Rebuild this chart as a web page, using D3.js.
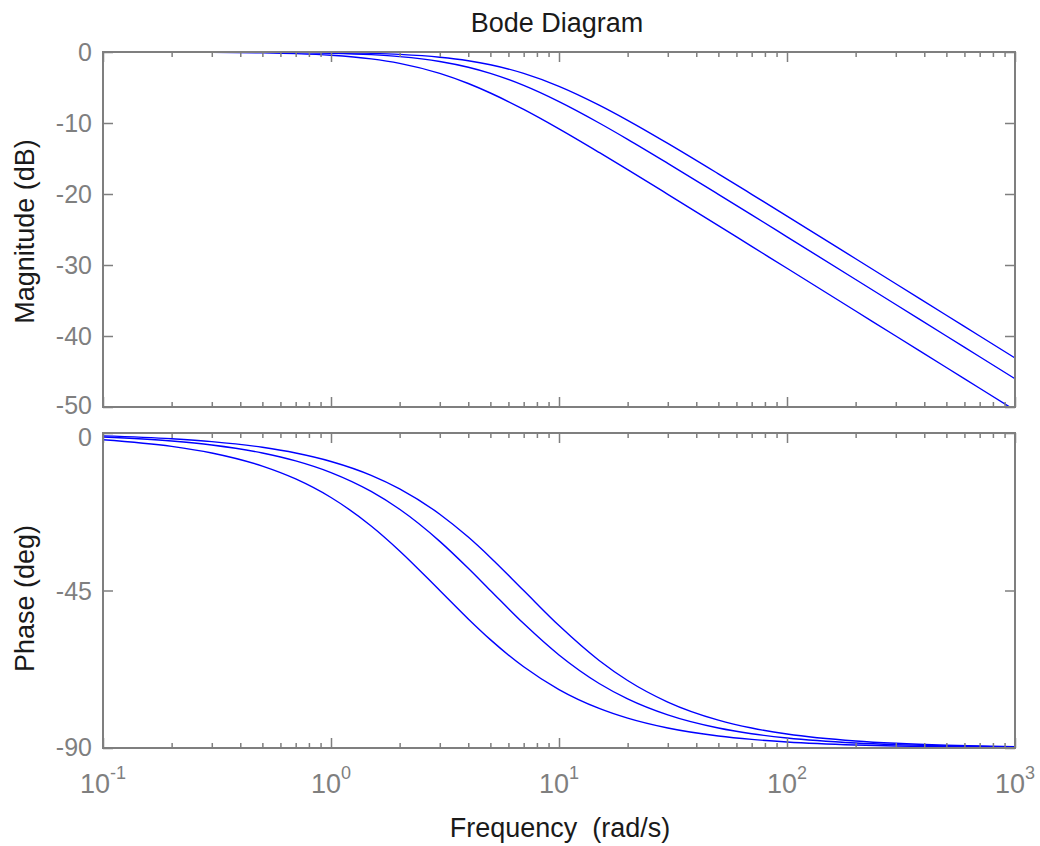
<!DOCTYPE html>
<html>
<head>
<meta charset="utf-8">
<script src="https://cdn.jsdelivr.net/npm/d3@7"></script>
<style>
  html, body { margin: 0; padding: 0; background: #ffffff; }
  svg { display: block; }
  text { font-family: "Liberation Sans", Arial, sans-serif; white-space: pre; }
</style>
</head>
<body>
<svg id="chart" width="1040" height="846"></svg>
<script>
// ---- data ----
const frequencies = [0.1, 0.2, 0.3, 0.5, 0.7, 1, 1.5, 2, 3, 4, 5, 7, 10, 15, 20, 30, 50, 70, 100, 200, 300, 500, 700, 1000];

// magnitude (dB), three responses
const magLow  = [-0.005, -0.019, -0.043, -0.119, -0.23, -0.458, -0.969, -1.597, -3.01, -4.437, -5.775, -8.09, -10.83, -14.15, -16.57, -20.04, -24.45, -27.37, -30.46, -36.48, -40.0, -44.44, -47.36, -50.46];
const magMid  = [-0.002, -0.007, -0.016, -0.043, -0.084, -0.17, -0.374, -0.645, -1.335, -2.148, -3.01, -4.71, -6.99, -10.0, -12.3, -15.68, -20.04, -22.94, -26.03, -32.04, -35.56, -40.0, -42.92, -46.02];
const magHigh = [-0.001, -0.004, -0.008, -0.022, -0.043, -0.088, -0.195, -0.341, -0.733, -1.227, -1.79, -3.01, -4.83, -7.48, -9.62, -12.87, -17.16, -20.04, -23.11, -29.12, -32.64, -37.08, -40.0, -43.1];

// phase (deg), three responses
const phaseLow  = [-1.91, -3.81, -5.71, -9.46, -13.13, -18.43, -26.57, -33.69, -45.0, -53.13, -59.04, -66.8, -73.3, -78.69, -81.47, -84.29, -86.57, -87.55, -88.28, -89.14, -89.43, -89.66, -89.75, -89.83];
const phaseMid  = [-1.15, -2.29, -3.43, -5.71, -7.97, -11.31, -16.7, -21.8, -30.96, -38.66, -45.0, -54.46, -63.43, -71.57, -75.96, -80.54, -84.29, -85.91, -87.14, -88.57, -89.05, -89.43, -89.59, -89.71];
const phaseHigh = [-0.82, -1.64, -2.45, -4.09, -5.71, -8.13, -12.09, -15.95, -23.2, -29.74, -35.54, -45.0, -55.01, -64.98, -70.71, -76.87, -82.03, -84.29, -86.0, -87.99, -88.66, -89.2, -89.43, -89.6];

// axis ticks / labels
const xDecades = [0.1, 1, 10, 100, 1000];
const xDecadeExponents = ["-1", "0", "1", "2", "3"];
const magTicks = [0, -10, -20, -30, -40, -50];
const phaseTicks = [0, -45, -90];

const titleText = "Bode Diagram";
const xLabelText = "Frequency  (rad/s)";
const magLabelText = "Magnitude (dB)";
const phaseLabelText = "Phase (deg)";

// ---- layout ----
const svg = d3.select("#chart");
const left = 103, right = 1015;
const magTop = 52, magBottom = 407;
const phTop = 433, phBottom = 748;
const axisColor = "#7f7f7f";
const lineColor = "#0000ff";

const x = d3.scaleLog().domain([0.1, 1000]).range([left, right]);
const yMag = d3.scaleLinear().domain([-50, 0]).range([magBottom, magTop]);
const yPh = d3.scaleLinear().domain([-90, 0]).range([phBottom, phTop]);

// minor ticks
const minorTicks = [];
for (let e = -1; e < 3; e++) {
  for (let m = 2; m <= 9; m++) minorTicks.push(m * Math.pow(10, e));
}

// clip paths
const defs = svg.append("defs");
defs.append("clipPath").attr("id", "clipMag").append("rect")
  .attr("x", left).attr("y", magTop).attr("width", right - left).attr("height", magBottom - magTop);
defs.append("clipPath").attr("id", "clipPh").append("rect")
  .attr("x", left).attr("y", phTop).attr("width", right - left).attr("height", phBottom - phTop);

function drawCurves(series, yScale, clipId) {
  const g = svg.append("g").attr("clip-path", `url(#${clipId})`);
  const line = d3.line()
    .x(d => x(d[0]))
    .y(d => yScale(d[1]))
    .curve(d3.curveMonotoneX);
  series.forEach(vals => {
    const pts = frequencies.map((f, i) => [f, vals[i]]);
    g.append("path")
      .attr("d", line(pts))
      .attr("fill", "none")
      .attr("stroke", lineColor)
      .attr("stroke-width", 1.4);
  });
}

drawCurves([magLow, magMid, magHigh], yMag, "clipMag");
drawCurves([phaseLow, phaseMid, phaseHigh], yPh, "clipPh");

function drawFrame(yScale, top, bottom, yTicks, labelShift) {
  const g = svg.append("g");
  const majorLen = 10, minorLen = 5;
  const axB = d3.axisBottom(x).tickValues(xDecades).tickSize(-majorLen).tickFormat("").tickSizeOuter(0);
  const axBm = d3.axisBottom(x).tickValues(minorTicks).tickSize(-minorLen).tickFormat("").tickSizeOuter(0);
  const axT = d3.axisTop(x).tickValues(xDecades).tickSize(-majorLen).tickFormat("").tickSizeOuter(0);
  const axTm = d3.axisTop(x).tickValues(minorTicks).tickSize(-minorLen).tickFormat("").tickSizeOuter(0);
  const axL = d3.axisLeft(yScale).tickValues(yTicks).tickSize(-majorLen).tickFormat("").tickSizeOuter(0);
  const axR = d3.axisRight(yScale).tickValues(yTicks).tickSize(-majorLen).tickFormat("").tickSizeOuter(0);
  [[axB, `translate(0,${bottom})`], [axBm, `translate(0,${bottom})`],
   [axT, `translate(0,${top})`], [axTm, `translate(0,${top})`],
   [axL, `translate(${left},0)`], [axR, `translate(${right},0)`]].forEach(([a, t]) => {
    const ga = g.append("g").attr("transform", t).call(a);
    ga.selectAll(".domain").remove();
    ga.selectAll("line").attr("stroke", axisColor).attr("stroke-width", 1.5);
  });
  g.append("rect")
    .attr("x", left).attr("y", top)
    .attr("width", right - left).attr("height", bottom - top)
    .attr("fill", "none").attr("stroke", axisColor).attr("stroke-width", 2);
  // y tick labels
  g.selectAll("text.ylab").data(yTicks).enter().append("text")
    .attr("class", "ylab")
    .attr("x", left - 11)
    .attr("y", d => yScale(d) + (labelShift[d] || 0))
    .attr("dy", "0.36em")
    .attr("text-anchor", "end")
    .attr("font-size", 25)
    .attr("fill", axisColor)
    .text(d => d);
}

drawFrame(yMag, magTop, magBottom, magTicks, { "-50": -2 });
drawFrame(yPh, phTop, phBottom, phaseTicks, { "0": 4, "-90": -1 });

// x tick labels (bottom panel)
const xl = svg.append("g");
xDecades.forEach((v, i) => {
  const t = xl.append("text")
    .attr("x", x(v))
    .attr("y", 793)
    .attr("text-anchor", "middle")
    .attr("font-size", 27)
    .attr("fill", axisColor);
  t.append("tspan").text("10");
  t.append("tspan").attr("font-size", 18).attr("dy", -14).text(xDecadeExponents[i]);
});

// title and axis labels
svg.append("text")
  .attr("x", 557).attr("y", 32)
  .attr("text-anchor", "middle")
  .attr("font-size", 27)
  .attr("fill", "#1a1a1a")
  .text(titleText);

svg.append("text")
  .attr("x", 560).attr("y", 837)
  .attr("text-anchor", "middle")
  .attr("font-size", 27)
  .attr("fill", "#1a1a1a")
  .attr("xml:space", "preserve")
  .text(xLabelText);

svg.append("text")
  .attr("transform", `translate(34,${(magTop + magBottom) / 2 + 2}) rotate(-90)`)
  .attr("text-anchor", "middle")
  .attr("font-size", 27)
  .attr("fill", "#1a1a1a")
  .text(magLabelText);

svg.append("text")
  .attr("transform", `translate(34,${(phTop + phBottom) / 2 + 8}) rotate(-90)`)
  .attr("text-anchor", "middle")
  .attr("font-size", 27)
  .attr("fill", "#1a1a1a")
  .text(phaseLabelText);
</script>
</body>
</html>
